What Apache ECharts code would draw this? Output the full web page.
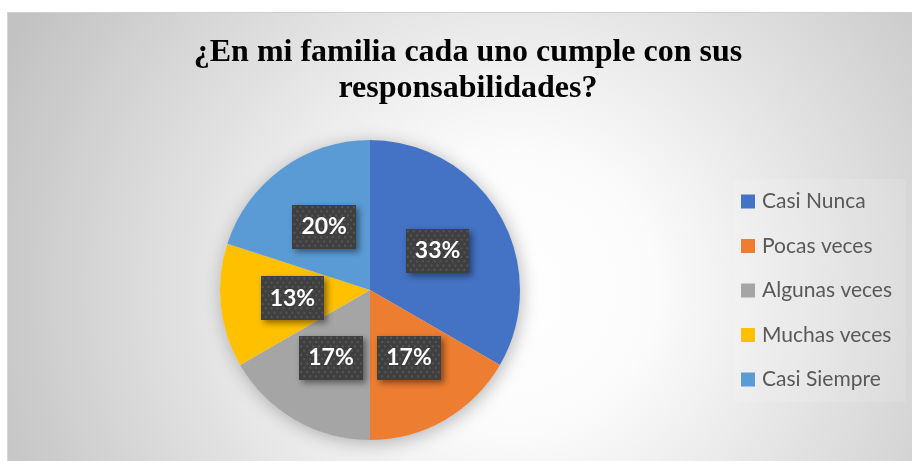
<!DOCTYPE html>
<html>
<head>
<meta charset="utf-8">
<script src="https://cdn.jsdelivr.net/npm/echarts@6/dist/echarts.min.js"></script>
<style>
  html, body { margin: 0; padding: 0; background: #fff; }
  #wrap { position: relative; width: 912px; height: 461px; background: #fff; overflow: hidden; }
  #chart { position: absolute; left: 7px; top: 12px; width: 905px; height: 449px;
           border-top: 1px solid #cfcfcf; border-left: 1px solid #d6d6d6; box-sizing: border-box; }
</style>
</head>
<body>
<div id="wrap"><div id="chart"></div></div>
<script>
const titleText = '¿En mi familia cada uno cumple con sus\nresponsabilidades?';
const categories = ['Casi Nunca', 'Pocas veces', 'Algunas veces', 'Muchas veces', 'Casi Siempre'];
const counts = [10, 5, 5, 4, 6];
const colors = ['#4472C4', '#ED7D31', '#A5A5A5', '#FFC000', '#5B9BD5'];

// patterned dark label background
function makePattern() {
  const c = document.createElement('canvas');
  c.width = 64; c.height = 41;
  const g = c.getContext('2d');
  g.fillStyle = '#3f3f3f';
  g.fillRect(0, 0, c.width, c.height);
  g.fillStyle = '#555555';
  for (let y = 1, row = 0; y < c.height; y += 4, row++) {
    for (let x = (row % 2) * 3 + 1; x < c.width; x += 6) {
      g.fillRect(x, y, 2, 2);
    }
  }
  return c;
}
const pattern = makePattern();

const chart = echarts.init(document.getElementById('chart'), null, { renderer: 'canvas' });
const total = counts.reduce((a, b) => a + b, 0);

chart.setOption({
  animation: false,
  backgroundColor: {
    type: 'radial', x: 0.56, y: 0.62, r: 1.25,
    colorStops: [{ offset: 0, color: '#ffffff' }, { offset: 0.25, color: '#fbfbfb' }, { offset: 1, color: '#c2c2c2' }]
  },
  color: colors,
  title: {
    text: titleText,
    left: 455, textAlign: 'center', top: 17,
    textStyle: {
      fontFamily: '"Liberation Serif", "Times New Roman", serif',
      fontWeight: 'bold', fontSize: 32, lineHeight: 36, color: '#000'
    }
  },
  legend: {
    orient: 'vertical',
    left: 726, top: 166,
    padding: [12, 14, 12, 7],
    backgroundColor: 'rgba(255,255,255,0.12)',
    itemWidth: 14, itemHeight: 14, itemGap: 23.5,
    icon: 'rect',
    data: categories,
    textStyle: { fontFamily: 'Lato, "Open Sans", sans-serif', fontSize: 21, color: '#595959', padding: [0, 0, 0, 2] }
  },
  series: [
    {
      type: 'pie', silent: true, z: 1,
      center: [362, 277], radius: 150,
      label: { show: false }, labelLine: { show: false },
      itemStyle: { color: '#e8e8e8', shadowBlur: 18, shadowColor: 'rgba(0,0,0,0.28)', shadowOffsetX: 2, shadowOffsetY: 3 },
      data: [{ value: total, name: '' }],
      legendHoverLink: false
    },
    {
      type: 'pie', z: 2,
      center: [362, 277], radius: 150,
      startAngle: 90, clockwise: true,
      itemStyle: { borderWidth: 0 },
      label: {
        show: true, position: 'inside',
        formatter: p => Math.round(p.percent) + '%',
        fontFamily: 'Lato, "Open Sans", sans-serif', fontWeight: 'bold', fontSize: 23,
        color: '#fff',
        backgroundColor: { image: pattern },
        padding: [11, 9, 10, 9],
        shadowColor: 'rgba(0,0,0,0.45)', shadowBlur: 6, shadowOffsetX: 3, shadowOffsetY: 3
      },
      labelLine: { show: false },
      data: categories.map((n, i) => ({ name: n, value: counts[i] }))
    }
  ]
});
</script>
</body>
</html>
